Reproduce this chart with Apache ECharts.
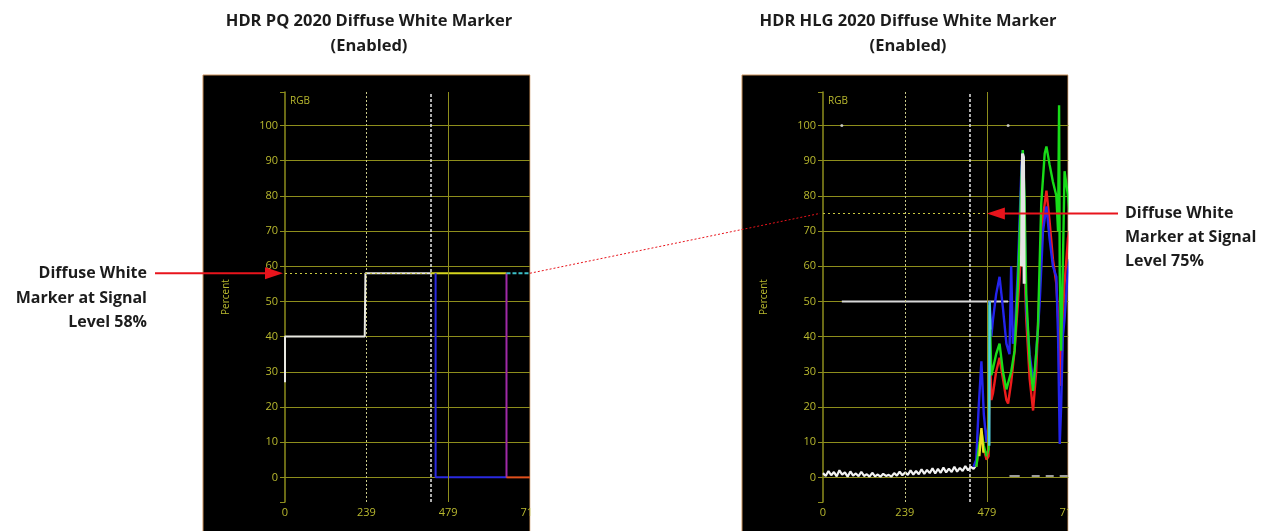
<!DOCTYPE html>
<html><head><meta charset="utf-8">
<script src="https://cdn.jsdelivr.net/npm/echarts@6/dist/echarts.min.js"></script>
<style>html,body{margin:0;padding:0;background:#fff}#c{width:1262px;height:531px}</style>
</head><body><div id="c"></div>
<script>
// ---------- data ----------
const xTickLabels = [0, 239, 479, 719];
const titles = ['HDR PQ 2020 Diffuse White Marker\n(Enabled)', 'HDR HLG 2020 Diffuse White Marker\n(Enabled)'];
const noteLeft = 'Diffuse White\nMarker at Signal\nLevel 58%';
const noteRight = 'Diffuse White\nMarker at Signal\nLevel 75%';
const pqMarker = 58, hlgMarker = 75;
const cursorX = 428;           // white dashed cursor
const pqMarkerEnd = 428, hlgMarkerEnd = 479;

// PQ panel traces [x, percent]
const pqWhite  = [[0,27],[0,40],[234,40],[236,58],[428,58]];
const pqYellow = [[428,58],[650,58]];
const pqBlue   = [[442,58],[442,0],[650,0]];
const pqPurple = [[650,0],[650,58]];
const pqCyan   = [[650,58],[719,58]];
const pqOrange = [[650,0],[719,0]];

// HLG panel: low-level noise (white), sampled every 8 columns from 0
const hlgNoiseStep = 8;
const hlgNoise = [1.2,0.4,1.8,0.6,1.5,0.3,2.0,0.8,1.4,0.2,1.7,0.5,1.1,0.3,1.6,0.4,0.9,0.2,1.3,0.3,
  0.8,0.2,1.0,0.4,0.7,0.2,1.2,0.5,1.6,0.6,1.4,0.7,2.0,0.8,1.8,0.9,2.3,1.0,2.1,1.2,
  2.6,1.1,2.4,1.3,2.8,1.4,2.5,1.5,3.0,1.6,2.7,1.8,3.2,2.0,3.0,2.4,3.5];
const hlgGreen = [[448,3],[455,8],[463,13],[470,9],[478,6],[484,8],[487,49],[492,29],[497,31],[506,35],[516,38],[526,30],[536,25],[541,24.6],[550,30],[560,36],[570,55],[580,85],[584,93],[589,80],[594,52],[604,33],[614,24.6],[623,35],[628,42],[638,78],[648,92],[653,94],[662,89],[672,84],[682,80],[687,70],[690,105.7],[692,58],[696,36],[701,60],[706,87],[716,80],[721,75]];
const hlgRed   = [[448,3],[455,8],[463,12],[470,8],[478,5],[484,6],[487,40],[492,22],[497,24],[506,30],[516,34],[526,28],[536,22],[541,21],[550,27],[560,36],[570,50],[580,66],[584,68],[589,60],[594,45],[604,28],[614,19],[623,30],[633,54],[643,74],[653,81.5],[662,73],[672,62],[682,55],[690,40],[696,26],[701,45],[706,55],[716,68],[721,70]];
const hlgBlue  = [[440,3],[448,5],[455,20],[463,33],[470,18],[478,10],[484,15],[487,50],[492,40],[497,45],[506,52],[516,57],[526,48],[536,38],[545,35],[550,60],[555,38],[560,40],[570,60],[580,88],[584,93],[589,75],[594,48],[604,35],[616,26],[623,35],[633,49],[643,70],[653,77],[662,68],[672,60],[682,57],[687,40],[692,9.5],[696,20],[701,40],[706,45],[716,59],[721,62]];
const hlgYellowSpike = [[457,6],[463,14],[469,7]];
const hlgWhiteSpike  = [[580,60],[583,92],[586,91],[588,55]];
const hlgCyanRise    = [[486,9],[487,50],[489,42]];
const hlgWhiteLevel  = [[55,50],[541,50]];
const hlgWhiteDots   = [[55,100],[541,100]];
const hlgZeroDash1   = [[545,0.4],[575,0.4]];
const hlgZeroDash2   = [[610,0.4],[719,0.4]];

// ---------- styles ----------
const GRID = '#8e8e1c', LBL = '#b8b82e';
const grids = [{left:285, top:92, width:245, height:410},{left:823, top:92, width:246, height:410}];

function xAxisFor(i){
  return {type:'value', gridIndex:i, min:0, max:719, interval:719/3,
    axisLine:{show:false}, axisTick:{show:false}, splitLine:{show:false},
    axisLabel:{color:LBL, fontSize:11, fontFamily:'Open Sans', margin:5, customValues:xTickLabels,
      formatter:v=>String(Math.floor(v+1e-6))}};
}
function yAxisFor(i){
  return {type:'value', gridIndex:i, min:-7, max:109.5, minInterval:10, maxInterval:10,
    name:'Percent', nameLocation:'middle', nameRotate:90, nameGap:54,
    nameTextStyle:{color:LBL, fontSize:10, fontFamily:'Open Sans'},
    axisLine:{show:true, onZero:false, lineStyle:{color:GRID, width:1.5}},
    axisTick:{show:true, length:5, lineStyle:{color:GRID}},
    axisLabel:{color:LBL, fontSize:11, fontFamily:'Open Sans', margin:7,
      formatter:v=>(v>=0 && v<=100 && Math.abs(v%10)<1e-6)?String(Math.round(v)):''},
    splitLine:{show:true, showMinLine:false, showMaxLine:false, lineStyle:{color:GRID, width:1}}};
}
function guides(i, markerY, markerEnd){
  return {type:'line', xAxisIndex:i, yAxisIndex:i, data:[], z:1, silent:true,
    markLine:{silent:true, symbol:'none', label:{show:false}, animation:false,
      data:[
        {xAxis:xTickLabels[1], lineStyle:{color:'#c9c98a', type:[2,2], width:1}},
        {xAxis:xTickLabels[2], lineStyle:{color:GRID, type:'solid', width:1}},
        {xAxis:cursorX, lineStyle:{color:'#e6e6e6', type:[3,2], width:1.5}},
        [{coord:[0,markerY], lineStyle:{color:'#c8c840', type:[2,3], width:1.2}},{coord:[markerEnd,markerY]}]
      ]}};
}
function trace(i, data, color, extra){
  return Object.assign({type:'line', xAxisIndex:i, yAxisIndex:i, data:data, symbol:'none', z:3,
    animation:false, lineStyle:{color:color, width:2.4}}, extra||{});
}
const noiseData = hlgNoise.map((v,k)=>[k*hlgNoiseStep, v]);

const chart = echarts.init(document.getElementById('c'));
chart.setOption({
  backgroundColor:'#ffffff',
  animation:false,
  grid:grids,
  xAxis:[xAxisFor(0), xAxisFor(1)],
  yAxis:[yAxisFor(0), yAxisFor(1)],
  series:[
    guides(0, pqMarker, pqMarkerEnd),
    trace(0, pqYellow, '#d6d61e', {lineStyle:{color:'#d6d61e', width:2}}),
    trace(0, pqBlue, '#2a2ae0', {lineStyle:{color:'#2a2ae0', width:2}}),
    trace(0, pqPurple, '#a02aa8', {lineStyle:{color:'#a02aa8', width:2}}),
    trace(0, pqCyan, '#3cc0c8', {lineStyle:{color:'#3cc0c8', width:2, type:[4,2]}}),
    trace(0, pqOrange, '#e0501c', {lineStyle:{color:'#e0501c', width:2}}),
    trace(0, pqWhite, '#e8e8e0', {lineStyle:{color:'#e8e8e0', width:2}}),
    guides(1, hlgMarker, hlgMarkerEnd),
    trace(1, hlgWhiteLevel, '#d8d8d8', {lineStyle:{color:'#d8d8d8', width:2}}),
    trace(1, hlgWhiteDots, '#ffffff', {type:'scatter', symbol:'circle', symbolSize:3, itemStyle:{color:'#e0e0e0'}}),
    trace(1, hlgZeroDash1, '#cfcfcf', {lineStyle:{color:'#cfcfcf', width:1.5}}),
    trace(1, hlgZeroDash2, '#cfcfcf', {lineStyle:{color:'#cfcfcf', width:1.5, type:[8,6]}}),
    trace(1, noiseData, '#f2f2f2', {lineStyle:{color:'#f2f2f2', width:2.2}}),
    trace(1, hlgRed, '#ee1c1c'),
    trace(1, hlgBlue, '#2424ee'),
    trace(1, hlgGreen, '#18dc18'),
    trace(1, hlgYellowSpike, '#f0e020'),
    trace(1, hlgCyanRise, '#50d0e0'),
    trace(1, hlgWhiteSpike, '#e4e4e4', {lineStyle:{color:'#e4e4e4', width:3}})
  ]
});

// ---------- annotations positioned from the scales ----------
const p58  = chart.convertToPixel({gridIndex:0}, [0, pqMarker]);
const p58r = chart.convertToPixel({gridIndex:0}, [719, pqMarker]);
const p75  = chart.convertToPixel({gridIndex:1}, [0, hlgMarker]);
const p75t = chart.convertToPixel({gridIndex:1}, [hlgMarkerEnd, hlgMarker]);
const pTop0 = chart.convertToPixel({gridIndex:0}, [0, 107]);
const pTop1 = chart.convertToPixel({gridIndex:1}, [0, 107]);
const RED = '#e8141c';
const panelL = {x:203, y:75, w:327};
const panelR = {x:742, y:75, w:326};
const txt = (x,y,text,align,size,lh)=>({type:'text', x:x, y:y, z:120,
  style:{text:text, fill:'#1c1c1c', font:'bold '+size+'px "Open Sans"', align:align, verticalAlign:'top', lineHeight:lh}});

chart.setOption({graphic:[
  {type:'rect', z:-10, shape:{x:panelL.x, y:panelL.y, width:panelL.w, height:531-panelL.y+2}, style:{fill:'#000', stroke:'#c8905a', lineWidth:1}},
  {type:'rect', z:-10, shape:{x:panelR.x, y:panelR.y, width:panelR.w, height:531-panelR.y+2}, style:{fill:'#000', stroke:'#c8905a', lineWidth:1}},
  {type:'rect', z:100, shape:{x:panelL.x+panelL.w+0.5, y:60, width:14, height:480}, style:{fill:'#fff'}},
  {type:'rect', z:100, shape:{x:panelR.x+panelR.w+0.5, y:60, width:22, height:480}, style:{fill:'#fff'}},
  {type:'text', x:pTop0[0]+5, y:pTop0[1], z:50, style:{text:'RGB', fill:LBL, font:'10px "Open Sans"', verticalAlign:'middle'}},
  {type:'text', x:pTop1[0]+5, y:pTop1[1], z:50, style:{text:'RGB', fill:LBL, font:'10px "Open Sans"', verticalAlign:'middle'}},
  txt(369, 21-12.5, titles[0], 'center', 16.5, 25),
  txt(908, 21-12.5, titles[1], 'center', 16.5, 25),
  // left arrow
  {type:'line', z:110, shape:{x1:155, y1:p58[1], x2:p58[0]-14, y2:p58[1]}, style:{stroke:RED, lineWidth:2}},
  {type:'polygon', z:110, shape:{points:[[p58[0]-2,p58[1]],[p58[0]-20,p58[1]-6],[p58[0]-20,p58[1]+6]]}, style:{fill:RED}},
  // connector
  {type:'line', z:110, shape:{x1:p58r[0], y1:p58[1], x2:p75[0]-3, y2:p75[1]}, style:{stroke:RED, lineWidth:1, lineDash:[2,2]}},
  // right arrow
  {type:'line', z:110, shape:{x1:1118, y1:p75t[1], x2:p75t[0]+14, y2:p75t[1]}, style:{stroke:RED, lineWidth:2}},
  {type:'polygon', z:110, shape:{points:[[p75t[0],p75t[1]],[p75t[0]+18,p75t[1]-6],[p75t[0]+18,p75t[1]+6]]}, style:{fill:RED}},
  txt(147, p58[1]-12, noteLeft, 'right', 16, 24.5),
  txt(1125, p75t[1]-12, noteRight, 'left', 16, 24)
]});
</script>
</body></html>
